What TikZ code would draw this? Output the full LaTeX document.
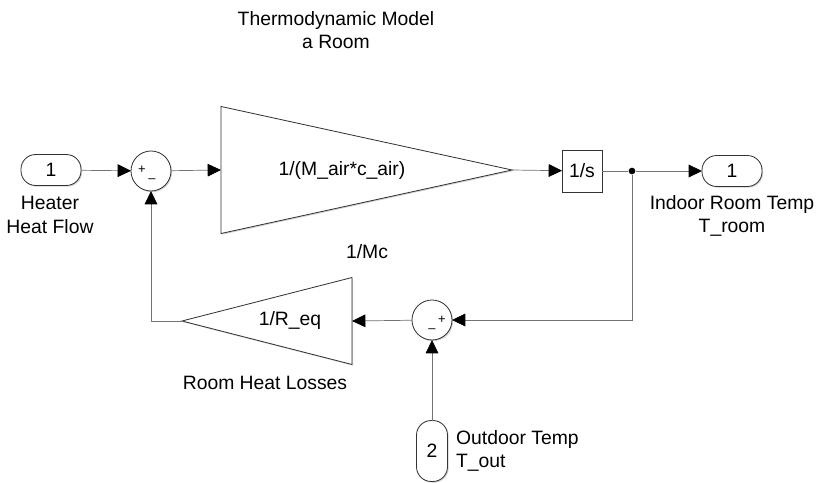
\documentclass[tikz,border=0pt]{standalone}
\usepackage{fontspec}
\setmainfont{Liberation Sans}
\usetikzlibrary{arrows.meta, positioning, shapes.geometric, shadows}

\tikzset{
  blk/.style={draw=black!80, line width=0.7pt, fill=white, inner sep=0pt, outer sep=0pt,
    drop shadow={shadow xshift=1pt, shadow yshift=-1pt, opacity=0.35}},
  port/.style={blk, rounded corners=0.44cm, minimum width=1.8cm, minimum height=0.93cm},
  sumblk/.style={blk, circle, minimum size=1.2cm},
  gainblk/.style={blk, isosceles triangle, isosceles triangle stretches},
  wire/.style={draw=black!55, line width=0.6pt},
  sig/.style={wire, -{Triangle[length=0.4cm, width=0.38cm, color=black]}},
  lbl/.style={align=center, font=\fontsize{16.5pt}{20pt}\selectfont},
  sgn/.style={font=\fontsize{11pt}{11pt}\selectfont, inner sep=0pt},
}

\begin{document}
\begin{tikzpicture}[x=0.03cm, y=-0.03cm]
  \useasboundingbox (0,0) rectangle (818,483);
  % title
  \node[lbl] (title) at (336,30) {Thermodynamic Model\\a Room};
  % forward path
  \node[port, lbl] (heatin) at (51,170) {1};
  \node[lbl] (heatlbl) at (50,215) {Heater\\Heat Flow};
  \node[sumblk] (sumfwd) at (151,171) {};
  \node[sgn] (sumfwdp) at (142,170) {+};
  \node[sgn] (sumfwdm) at (152,181) {–};
  \node[gainblk, anchor=west, minimum height=8.73cm, minimum width=3.81cm] (gainmc) at (221,170) {};
  \node[lbl] (gainmclbl) at (342,170) {1/(M\_air*c\_air)};
  \node[lbl] (mclbl) at (367,252) {1/Mc};
  \node[blk, lbl, minimum width=1.2cm, minimum height=1.26cm] (integ) at (582,171) {1/s};
  \node[circle, fill=black, inner sep=0pt, minimum size=0.2cm] (branch) at (632,171) {};
  \node[port, lbl] (roomout) at (732,171) {1};
  \node[lbl] (roomlbl) at (732,216) {Indoor Room Temp\\T\_room};
  % loss path
  \node[sumblk] (sumloss) at (432,320) {};
  \node[sgn] (sumlossp) at (442,320) {+};
  \node[sgn] (sumlossm) at (432,331) {–};
  \node[gainblk, shape border rotate=180, anchor=east, minimum height=5.1cm, minimum width=2.61cm] (gainreq) at (352,321) {};
  \node[lbl] (gainreqlbl) at (290,321) {1/R\_eq};
  \node[lbl] (losslbl) at (265,383) {Room Heat Losses};
  \node[port, lbl, minimum width=0.93cm, minimum height=1.83cm] (outdoor) at (432,451) {2};
  \node[lbl, align=left, anchor=west] (outdoorlbl) at (452,451) {Outdoor Temp\\T\_out};
  % signals
  \draw[sig] (heatin) -- (sumfwd);
  \draw[sig] (sumfwd) -- (gainmc.west);
  \draw[sig] (gainmc.apex) -- (integ);
  \draw[wire] (integ) -- (branch);
  \draw[sig] (branch) -- (roomout);
  \draw[sig] (branch) |- (sumloss.east);
  \draw[sig] (sumloss) -- (gainreq.east);
  \draw[sig] (gainreq.apex) -| (sumfwd.south);
  \draw[sig] (outdoor) -- (sumloss);
\end{tikzpicture}
\end{document}
